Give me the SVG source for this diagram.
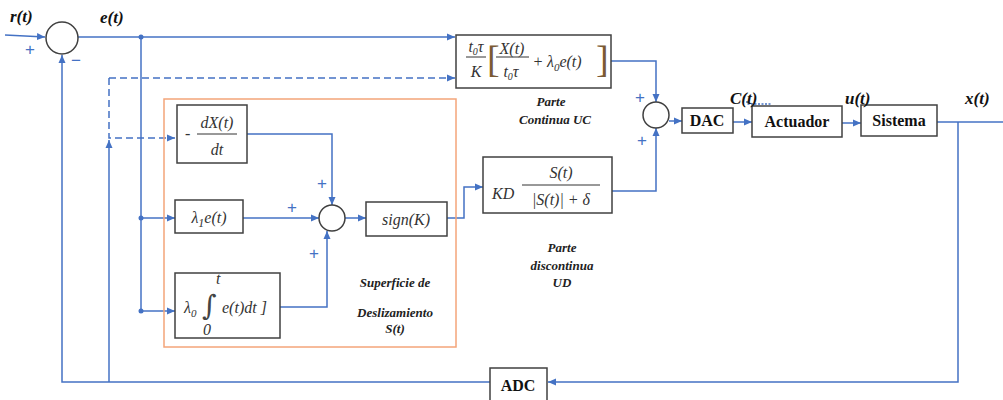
<svg xmlns="http://www.w3.org/2000/svg" width="1003" height="400" viewBox="0 0 1003 400">
<defs>
<marker id="ah" viewBox="0 0 8 8" refX="8" refY="4" markerWidth="8" markerHeight="8" markerUnits="userSpaceOnUse" orient="auto"><path d="M0,0.5 L8,4 L0,7.5 z" fill="#4472C4"/></marker>
<style>
.ln{fill:none;stroke:#4472C4;stroke-width:1.5}
.da{stroke-dasharray:7,4}
.bx{fill:#fff;stroke:#404040;stroke-width:1.5}
.cr{fill:#fff;stroke:#404040;stroke-width:1.5}
.m{font-family:'Liberation Serif','DejaVu Serif',serif;font-style:italic;fill:#333;font-size:16px}
.bar{stroke:#333;stroke-width:1}
.sig{font-family:'Liberation Serif','DejaVu Serif',serif;font-style:italic;font-weight:bold;font-size:17px;fill:#111}
.blk{font-family:'Liberation Serif','DejaVu Serif',serif;font-weight:bold;font-size:16px;fill:#111;text-anchor:middle}
.cap{font-family:'Liberation Serif','DejaVu Serif',serif;font-style:italic;font-weight:bold;font-size:13px;fill:#222;text-anchor:middle}
.pm{font-family:'Liberation Sans','DejaVu Sans',sans-serif;font-size:17px;fill:#4472C4;text-anchor:middle}
.brk{font-family:'Liberation Serif','DejaVu Serif',serif;font-size:38px;fill:#7a5a34}
.dot{fill:#4472C4}
</style>
</defs>
<rect width="1003" height="400" fill="#fff"/>

<g id="connectors">
<path class="ln" d="M5,35 L45,37" marker-end="url(#ah)"/>
<path class="ln" d="M78,37 H455" marker-end="url(#ah)"/>
<circle class="dot" cx="141" cy="37" r="2.5"/>
<path class="ln" d="M141,37 V311"/>
<circle class="dot" cx="141" cy="218" r="2.5"/>
<circle class="dot" cx="141" cy="311" r="2.5"/>
<path class="ln" d="M141,218 H175" marker-end="url(#ah)"/>
<path class="ln" d="M143,311 H175" marker-end="url(#ah)"/>
<path class="ln da" d="M109,78 V138 H175" marker-end="url(#ah)"/>
<path class="ln da" d="M109,78 H455" marker-end="url(#ah)"/>
<path class="ln" d="M109,382 V140" marker-end="url(#ah)"/>
<path class="ln" d="M490,382 H62 V55" marker-end="url(#ah)"/>
<path class="ln" d="M247,134 H332 V205" marker-end="url(#ah)"/>
<path class="ln" d="M243,218 H319" marker-end="url(#ah)"/>
<path class="ln" d="M280,307 H327 V231" marker-end="url(#ah)"/>
<path class="ln" d="M345,218 H366" marker-end="url(#ah)"/>
<path class="ln" d="M447,218 H464 V187 H483" marker-end="url(#ah)"/>
<path class="ln" d="M611,61 H656 V102" marker-end="url(#ah)"/>
<path class="ln" d="M612,191 H656 V128" marker-end="url(#ah)"/>
<path class="ln" d="M669,121 H682" marker-end="url(#ah)"/>
<path class="ln" d="M733,122 H752" marker-end="url(#ah)"/>
<path class="ln" d="M842,123 H861" marker-end="url(#ah)"/>
<path class="ln" d="M937,122 H1003"/>
<path class="ln" d="M958,122 V382 H548" marker-end="url(#ah)"/>
<path class="ln" d="M747,101 V104 H772" stroke-dasharray="2,1.5"/>
</g>

<g id="sum1">
<circle class="cr" cx="62" cy="38" r="16"/>
<text class="pm" x="30" y="55">+</text>
<text class="pm" x="76" y="66">−</text>
</g>

<g id="box-surface">
<rect x="164" y="99" width="292" height="248" fill="none" stroke="#F4A57A" stroke-width="1.5"/>
<text class="cap" x="395" y="287">Superficie de</text>
<text class="cap" x="395" y="317">Deslizamiento</text>
<text class="cap" x="395" y="333">S(t)</text>
</g>

<g id="box-deriv">
<rect class="bx" x="177" y="105" width="70" height="58"/>
<text class="m" x="185" y="139">-</text>
<text class="m" x="217" y="128" text-anchor="middle" font-size="17">dX(t)</text>
<line class="bar" x1="197" y1="134" x2="237" y2="134"/>
<text class="m" x="217" y="155" text-anchor="middle" font-size="17">dt</text>
</g>

<g id="box-l1">
<rect class="bx" x="175" y="200" width="68" height="33"/>
<text class="m" x="209" y="223" text-anchor="middle" font-size="18">λ<tspan font-size="12" dy="4">1</tspan><tspan dy="-4">e(t)</tspan></text>
</g>

<g id="box-l0">
<rect class="bx" x="175" y="273" width="105" height="65"/>
<text class="m" x="184" y="313" font-size="17">λ<tspan font-size="11" dy="4">0</tspan></text>
<text x="202" y="315" font-family="'DejaVu Serif',serif" font-size="28" fill="#444">∫</text>
<text class="m" x="216" y="284" font-size="10">t</text>
<text class="m" x="203" y="335" font-size="10" font-style="normal">0</text>
<text class="m" x="222" y="313" font-size="17">e(t)dt ]</text>
</g>

<g id="sum2">
<circle class="cr" cx="332" cy="218" r="13"/>
<text class="pm" x="322" y="189">+</text>
<text class="pm" x="292" y="213">+</text>
<text class="pm" x="314" y="259">+</text>
</g>

<g id="box-sign">
<rect class="bx" x="366" y="202" width="81" height="34"/>
<text class="m" x="406" y="225" text-anchor="middle" font-size="18">sign(K)</text>
</g>

<g id="box-uc">
<rect class="bx" x="456" y="35" width="155" height="53"/>
<text class="m" x="476" y="52" text-anchor="middle" font-size="15">t<tspan font-size="10" dy="3">0</tspan><tspan dy="-3">τ</tspan></text>
<line class="bar" x1="466" y1="57" x2="486" y2="57"/>
<text class="m" x="476" y="77" text-anchor="middle" font-size="15">K</text>
<text class="brk" x="487" y="72">[</text>
<text class="m" x="512" y="54" text-anchor="middle" font-size="15">X(t)</text>
<line class="bar" x1="496" y1="57" x2="529" y2="57"/>
<text class="m" x="511" y="77" text-anchor="middle" font-size="15">t<tspan font-size="10" dy="3">0</tspan><tspan dy="-3">τ</tspan></text>
<text class="m" x="538" y="67" text-anchor="middle" font-style="normal" font-size="16">+</text>
<text class="m" x="547" y="67" font-size="17">λ<tspan font-size="11" dy="4">0</tspan><tspan dy="-4">e(t)</tspan></text>
<text class="brk" x="596" y="72">]</text>
<text class="cap" x="551" y="106">Parte</text>
<text class="cap" x="555" y="124">Continua UC</text>
</g>

<g id="box-ud">
<rect class="bx" x="483" y="157" width="129" height="56"/>
<text class="m" x="492" y="199" font-size="18">KD</text>
<text class="m" x="561" y="178" text-anchor="middle" font-size="17">S(t)</text>
<line class="bar" x1="522" y1="185" x2="600" y2="185"/>
<text class="m" x="561" y="205" text-anchor="middle" font-size="17">|S(t)| + δ</text>
<text class="cap" x="562" y="252">Parte</text>
<text class="cap" x="562" y="270">discontinua</text>
<text class="cap" x="562" y="287">UD</text>
</g>

<g id="sum3">
<circle class="cr" cx="656" cy="115" r="13"/>
<text class="pm" x="640" y="103">+</text>
<text class="pm" x="642" y="146">+</text>
</g>

<g id="dac">
<rect class="bx" x="682" y="108" width="51" height="25"/>
<text class="blk" x="707" y="126">DAC</text>
</g>
<g id="actuador">
<rect class="bx" x="752" y="106" width="90" height="31"/>
<text class="blk" x="797" y="127">Actuador</text>
</g>
<g id="sistema">
<rect class="bx" x="861" y="105" width="76" height="31"/>
<text class="blk" x="899" y="126">Sistema</text>
</g>
<g id="adc">
<rect class="bx" x="490" y="368" width="57" height="36"/>
<text class="blk" x="518" y="391">ADC</text>
</g>

<g id="signals">
<text class="sig" x="10" y="22">r(t)</text>
<text class="sig" x="100" y="23">e(t)</text>
<text class="sig" x="730" y="104">C(t)</text>
<text class="sig" x="845" y="104">u(t)</text>
<text class="sig" x="965" y="104">x(t)</text>
</g>
</svg>
